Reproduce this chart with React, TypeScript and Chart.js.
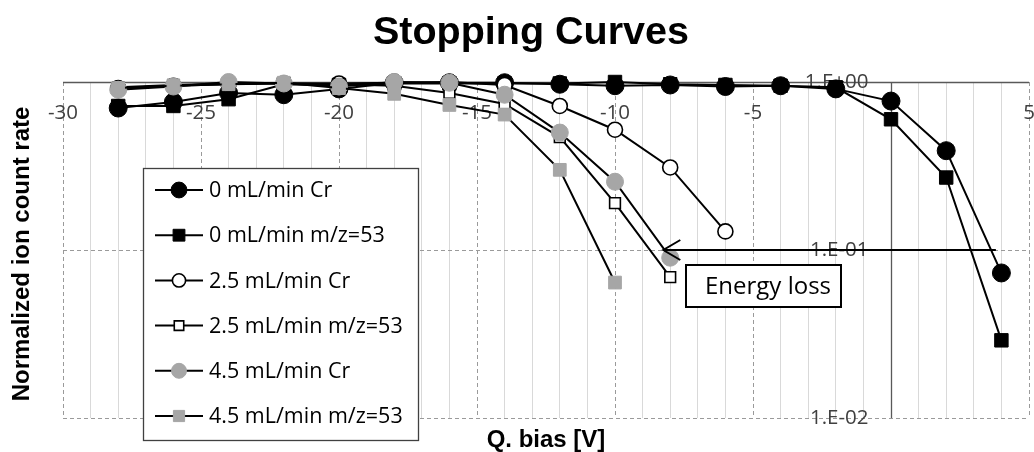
import React, { useEffect, useRef } from "react";
import { Chart, registerables } from "chart.js";

Chart.register(...registerables);

// Quadrupole bias settings (V)
const biasV = [-28, -26, -24, -22, -20, -18, -16, -14, -12, -10, -8, -6, -4, -2, 0, 2, 4];

// Normalized ion count rates per series (each series starts at -28 V)
const cr0 = [0.70, 0.76, 0.86, 0.84, 0.91, 0.99, 0.99, 0.99, 0.97, 0.95, 0.96, 0.94, 0.95, 0.91, 0.77, 0.39, 0.073];
const mz0 = [0.72, 0.72, 0.79, 0.97, 0.96, 0.98, 0.98, 0.98, 0.98, 1.0, 0.97, 0.96, 0.95, 0.93, 0.60, 0.27, 0.029];
const cr25 = [0.92, 0.95, 0.97, 0.98, 0.98, 0.99, 1.0, 0.96, 0.72, 0.52, 0.31, 0.129];
const mz25 = [0.93, 0.96, 0.98, 0.98, 0.97, 0.95, 0.86, 0.74, 0.47, 0.19, 0.069];
const cr45 = [0.90, 0.94, 1.0, 0.98, 0.94, 1.0, 0.99, 0.84, 0.50, 0.255, 0.090];
const mz45 = [0.92, 0.95, 0.97, 0.99, 0.92, 0.85, 0.73, 0.64, 0.30, 0.064];

const seriesNames = [
  "0 mL/min Cr",
  "0 mL/min m/z=53",
  "2.5 mL/min Cr",
  "2.5 mL/min m/z=53",
  "4.5 mL/min Cr",
  "4.5 mL/min m/z=53",
];

const xTickLabels = [-30, -25, -20, -15, -10, -5, 5];
const yTickValues = [1, 0.1, 0.01];
const yTickLabels = ["1.E+00", "1.E-01", "1.E-02"];

// Energy-loss arrow, in data units (bias V, count rate)
const arrowStartV = 3.8;
const arrowEndV = -8.25;
const arrowLevel = 0.1;
const noteText = "Energy loss";

const chartTitle = "Stopping Curves";
const xTitle = "Q. bias [V]";
const yTitle = "Normalized ion count rate";

const GRAY = "#a6a6a6";
const TICK_FONT = "20.5px 'Open Sans'";

const toPoints = (ys: number[]) => ys.map((y, i) => ({ x: biasV[i], y }));

type Style = { shape: "circle" | "rect"; r: number; fill: string; edge: string; edgeW: number };
const styles: Style[] = [
  { shape: "circle", r: 9, fill: "#000", edge: "#000", edgeW: 1 },
  { shape: "rect", r: 9.5, fill: "#000", edge: "#000", edgeW: 1 },
  { shape: "circle", r: 7.5, fill: "#fff", edge: "#000", edgeW: 1.6 },
  { shape: "rect", r: 7.6, fill: "#fff", edge: "#000", edgeW: 1.6 },
  { shape: "circle", r: 8.5, fill: GRAY, edge: GRAY, edgeW: 1 },
  { shape: "rect", r: 9, fill: GRAY, edge: GRAY, edgeW: 1 },
];

function drawMarker(ctx: CanvasRenderingContext2D, s: Style, cx: number, cy: number, scale = 1) {
  ctx.save();
  ctx.fillStyle = s.fill;
  ctx.strokeStyle = s.edge;
  ctx.lineWidth = s.edgeW;
  ctx.beginPath();
  if (s.shape === "circle") {
    ctx.arc(cx, cy, s.r * scale, 0, Math.PI * 2);
  } else {
    const h = s.r * Math.SQRT1_2 * scale;
    ctx.rect(cx - h, cy - h, 2 * h, 2 * h);
  }
  ctx.fill();
  ctx.stroke();
  ctx.restore();
}

const decorations = {
  id: "decorations",
  beforeDatasetsDraw(chart: any) {
    const { ctx, chartArea: a, scales } = chart;
    const x = scales.x;
    const y = scales.y;
    ctx.save();
    // dashed major grid lines
    ctx.setLineDash([4, 3]);
    ctx.strokeStyle = "#9a9a9a";
    ctx.lineWidth = 1;
    for (const t of x.ticks) {
      if (t.value % 5 !== 0 || t.value === 0) continue;
      const px = Math.round(x.getPixelForValue(t.value)) + 0.5;
      ctx.beginPath();
      ctx.moveTo(px, a.top);
      ctx.lineTo(px, a.bottom);
      ctx.stroke();
    }
    for (const v of yTickValues) {
      if (v === 1) continue;
      const py = Math.round(y.getPixelForValue(v)) + 0.5;
      ctx.beginPath();
      ctx.moveTo(a.left, py);
      ctx.lineTo(a.right, py);
      ctx.stroke();
    }
    ctx.setLineDash([]);
    // axis lines crossing at (0, 1)
    ctx.strokeStyle = "#595959";
    ctx.lineWidth = 1.3;
    const ay = Math.round(y.getPixelForValue(1)) + 0.5;
    ctx.beginPath();
    ctx.moveTo(a.left, ay);
    ctx.lineTo(a.right, ay);
    ctx.stroke();
    const ax = Math.round(x.getPixelForValue(0)) + 0.5;
    ctx.beginPath();
    ctx.moveTo(ax, a.top);
    ctx.lineTo(ax, a.bottom);
    ctx.stroke();
    // tick labels hang off the axes where they cross
    ctx.fillStyle = "#404040";
    ctx.font = TICK_FONT;
    ctx.textBaseline = "middle";
    ctx.textAlign = "center";
    for (const v of xTickLabels) {
      ctx.fillText(String(v), x.getPixelForValue(v), ay + 31);
    }
    ctx.textAlign = "right";
    yTickValues.forEach((v, i) => {
      ctx.fillText(yTickLabels[i], ax - 23, y.getPixelForValue(v));
    });
    ctx.restore();
  },
  afterDatasetsDraw(chart: any) {
    const { ctx, scales } = chart;
    const x = scales.x;
    const y = scales.y;
    ctx.save();
    // energy-loss arrow
    const yy = y.getPixelForValue(arrowLevel);
    const x0 = x.getPixelForValue(arrowStartV);
    const x1 = x.getPixelForValue(arrowEndV);
    ctx.strokeStyle = "#000";
    ctx.lineWidth = 2;
    ctx.beginPath();
    ctx.moveTo(x0, yy);
    ctx.lineTo(x1, yy);
    ctx.moveTo(x1 + 17, yy - 10);
    ctx.lineTo(x1, yy);
    ctx.lineTo(x1 + 17, yy + 10);
    ctx.stroke();
    // note box
    ctx.fillStyle = "#fff";
    ctx.fillRect(686, 265, 155, 42);
    ctx.lineWidth = 2;
    ctx.strokeRect(686, 265, 155, 42);
    ctx.fillStyle = "#000";
    ctx.font = "24px 'Open Sans'";
    ctx.textAlign = "left";
    ctx.textBaseline = "middle";
    ctx.fillText(noteText, 705, 287);

    // legend
    const lx = 143, ly = 168, lw = 275, lh = 272;
    ctx.fillStyle = "#fff";
    ctx.fillRect(lx, ly, lw, lh);
    ctx.strokeStyle = "#404040";
    ctx.lineWidth = 1.3;
    ctx.strokeRect(lx + 0.5, ly + 0.5, lw, lh);
    ctx.font = "21.5px 'Open Sans'";
    ctx.textBaseline = "middle";
    chart.data.datasets.forEach((ds: any, i: number) => {
      const ry = ly + 22 + i * 45.2;
      ctx.strokeStyle = "#000";
      ctx.lineWidth = 2;
      ctx.beginPath();
      ctx.moveTo(155, ry);
      ctx.lineTo(203, ry);
      ctx.stroke();
      drawMarker(ctx, styles[i], 179, ry, 0.88);
      ctx.fillStyle = "#000";
      ctx.fillText(ds.label, 209, ry + 1);
    });
    ctx.restore();
  },
  afterDraw(chart: any) {
    const { ctx } = chart;
    ctx.save();
    ctx.fillStyle = "#000";
    ctx.textAlign = "center";
    ctx.textBaseline = "middle";
    ctx.font = "bold 39.5px 'Liberation Sans'";
    ctx.fillText(chartTitle, 531, 33);
    ctx.font = "bold 24px 'Liberation Sans'";
    ctx.fillText(xTitle, 546, 440);
    ctx.translate(22, 254);
    ctx.rotate(-Math.PI / 2);
    ctx.fillText(yTitle, 0, 0);
    ctx.restore();
  },
};

export default function App() {
  const ref = useRef<HTMLCanvasElement | null>(null);

  useEffect(() => {
    const canvas = ref.current;
    if (!canvas) return;
    const seriesData = [cr0, mz0, cr25, mz25, cr45, mz45];
    const chart = new Chart(canvas, {
      type: "line",
      data: {
        datasets: seriesData.map((ys, i) => ({
          label: seriesNames[i],
          data: toPoints(ys),
          borderColor: "#000",
          borderWidth: 2,
          pointStyle: styles[i].shape,
          pointRadius: styles[i].r,
          pointBackgroundColor: styles[i].fill,
          pointBorderColor: styles[i].edge,
          pointBorderWidth: styles[i].edgeW,
          tension: 0,
          fill: false,
          clip: false as any,
          order: seriesData.length - i,
        })),
      },
      options: {
        animation: false,
        responsive: false,
        events: [],
        layout: { autoPadding: false, padding: { top: 82, left: 63, right: 5, bottom: 34 } },
        plugins: {
          legend: { display: false },
          title: { display: false },
          tooltip: { enabled: false },
        },
        scales: {
          x: {
            type: "linear",
            min: -30,
            max: 5,
            position: { y: 1 } as any,
            ticks: {
              stepSize: 1,
              autoSkip: false,
              maxRotation: 0,
              display: false,
            },
            grid: {
              drawTicks: false,
              lineWidth: 1,
              color: (c: any) =>
                c.tick && c.tick.value % 5 === 0 ? "rgba(0,0,0,0)" : "#d9d9d9",
            },
            border: { display: false },
          },
          y: {
            type: "logarithmic",
            min: 0.01,
            max: 1,
            display: false,
          },
        },
      },
      plugins: [decorations],
    });
    return () => chart.destroy();
  }, []);

  return (
    <div style={{ position: "fixed", left: 0, top: 0, width: 1034, height: 452, background: "#fff" }}>
      <canvas ref={ref} width={1034} height={452} style={{ display: "block" }} />
    </div>
  );
}
